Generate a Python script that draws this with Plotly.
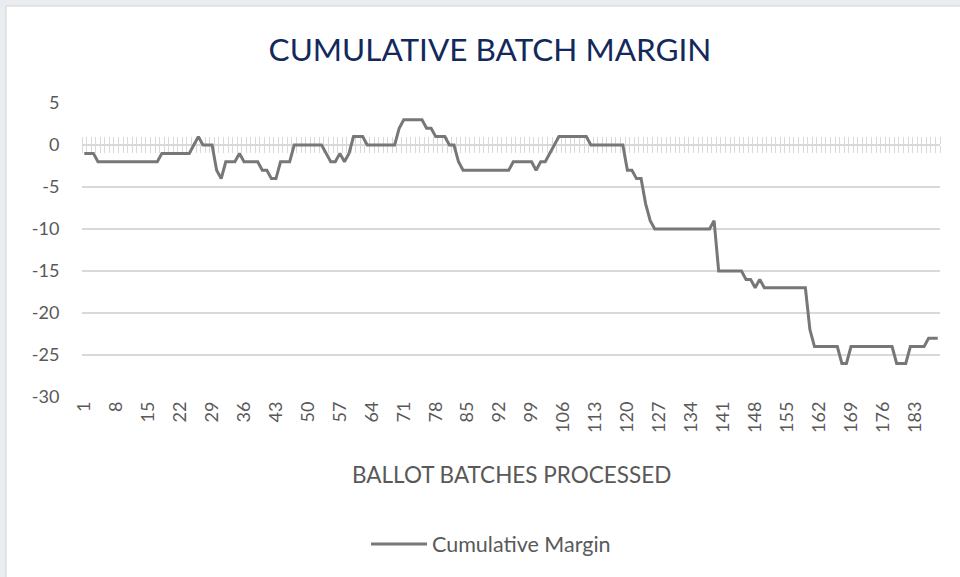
import plotly.graph_objects as go

# ---------------- data ----------------
batches = list(range(1, 189))

cumulative_margin = [
    -1, -1, -1, -2, -2, -2, -2, -2, -2, -2,
    -2, -2, -2, -2, -2, -2, -2, -1, -1, -1,
    -1, -1, -1, -1, 0, 1, 0, 0, 0, -3,
    -4, -2, -2, -2, -1, -2, -2, -2, -2, -3,
    -3, -4, -4, -2, -2, -2, 0, 0, 0, 0,
    0, 0, 0, -1, -2, -2, -1, -2, -1, 1,
    1, 1, 0, 0, 0, 0, 0, 0, 0, 2,
    3, 3, 3, 3, 3, 2, 2, 1, 1, 1,
    0, 0, -2, -3, -3, -3, -3, -3, -3, -3,
    -3, -3, -3, -3, -2, -2, -2, -2, -2, -3,
    -2, -2, -1, 0, 1, 1, 1, 1, 1, 1,
    1, 0, 0, 0, 0, 0, 0, 0, 0, -3,
    -3, -4, -4, -7, -9, -10, -10, -10, -10, -10,
    -10, -10, -10, -10, -10, -10, -10, -10, -9, -15,
    -15, -15, -15, -15, -15, -16, -16, -17, -16, -17,
    -17, -17, -17, -17, -17, -17, -17, -17, -17, -22,
    -24, -24, -24, -24, -24, -24, -26, -26, -24, -24,
    -24, -24, -24, -24, -24, -24, -24, -24, -26, -26,
    -26, -24, -24, -24, -24, -23, -23, -23,
]

x_tick_vals = [1, 8, 15, 22, 29, 36, 43, 50, 57, 64, 71, 78, 85, 92, 99,
               106, 113, 120, 127, 134, 141, 148, 155, 162, 169, 176, 183]
x_tick_text = [str(v) for v in x_tick_vals]
y_tick_vals = [-30, -25, -20, -15, -10, -5, 0, 5]
y_tick_text = ["-30", "-25", "-20", "-15", "-10", "-5", "0", "5"]

title_text = "CUMULATIVE BATCH MARGIN"
x_title_text = "BALLOT BATCHES PROCESSED"
series_name = "Cumulative Margin"

# ---------------- layout constants ----------------
W, H = 960, 577
ML, MR, MT, MB = 82, 20, 103, 180
PW, PH = W - ML - MR, H - MT - MB
FONT = "Lato"
GRAY_TXT = "#595959"
GRID = "#d9d9d9"


def px_x(px):
    return (px - ML) / PW


def px_y(py):
    return (H - MB - py) / PH


x_range = [batches[0] - 0.5, batches[-1] + 0.5]
y_range = [y_tick_vals[0], y_tick_vals[-1]]
zero_pos = (0 - y_range[0]) / (y_range[1] - y_range[0])

fig = go.Figure()

fig.add_trace(go.Scatter(
    x=batches, y=cumulative_margin, mode="lines", name=series_name,
    line=dict(color="#777777", width=3),
    xaxis="x", yaxis="y",
))
# invisible helpers so the overlay axes (tick hatch at zero) render
for ax in ("x2", "x3"):
    fig.add_trace(go.Scatter(x=[batches[0]], y=[0], mode="markers",
                             marker=dict(opacity=0), showlegend=False,
                             hoverinfo="skip", xaxis=ax, yaxis="y"))

hatch = dict(
    overlaying="x", anchor="free", position=zero_pos, range=x_range,
    tickmode="linear", tick0=0.5, dtick=1, ticks="outside", ticklen=7,
    tickwidth=1, tickcolor=GRID, showticklabels=False, showgrid=False,
    zeroline=False, showline=True, linecolor=GRID, linewidth=1.5,
    layer="below traces",
)

fig.update_layout(
    width=W, height=H,
    margin=dict(l=ML, r=MR, t=MT, b=MB, pad=0),
    paper_bgcolor="#eaedef",
    plot_bgcolor="white",
    font=dict(family=FONT, color=GRAY_TXT),
    title=dict(text=title_text, font=dict(family=FONT, size=31.5, color="#13295c"),
               xref="container", yref="container", x=490 / W, y=1 - 50 / H,
               xanchor="center", yanchor="middle"),
    xaxis=dict(range=x_range, tickmode="array", tickvals=x_tick_vals,
               ticktext=x_tick_text, tickangle=-90, ticks="",
               showgrid=False, zeroline=False, showline=False,
               tickfont=dict(family=FONT, size=18, color=GRAY_TXT)),
    xaxis2=dict(side="bottom", **hatch),
    xaxis3=dict(side="top", **hatch),
    yaxis=dict(range=y_range, tickmode="array", tickvals=y_tick_vals,
               ticktext=y_tick_text,
               showgrid=True, gridcolor=GRID, gridwidth=1.5, zeroline=False,
               ticks="outside", ticklen=18, tickcolor="rgba(0,0,0,0)",
               showline=False,
               tickfont=dict(family=FONT, size=18, color=GRAY_TXT)),
    showlegend=True,
    legend=dict(orientation="h", x=px_x(366), y=px_y(544), xanchor="left",
                yanchor="middle", itemwidth=56, bgcolor="rgba(0,0,0,0)",
                font=dict(family=FONT, size=21.5, color=GRAY_TXT)),
    shapes=[dict(type="rect", xref="paper", yref="paper", layer="below",
                 x0=px_x(6), x1=px_x(975), y0=px_y(595), y1=px_y(6),
                 fillcolor="white", line=dict(color="#d2d2d2", width=1))],
    annotations=[dict(text=x_title_text, xref="paper", yref="paper",
                      x=px_x(511), y=px_y(474), xanchor="center",
                      yanchor="middle", showarrow=False,
                      font=dict(family=FONT, size=22.5, color=GRAY_TXT))],
)

fig.write_html("out.html", config={"displayModeBar": False},
               post_script="document.body.style.margin='0';")
